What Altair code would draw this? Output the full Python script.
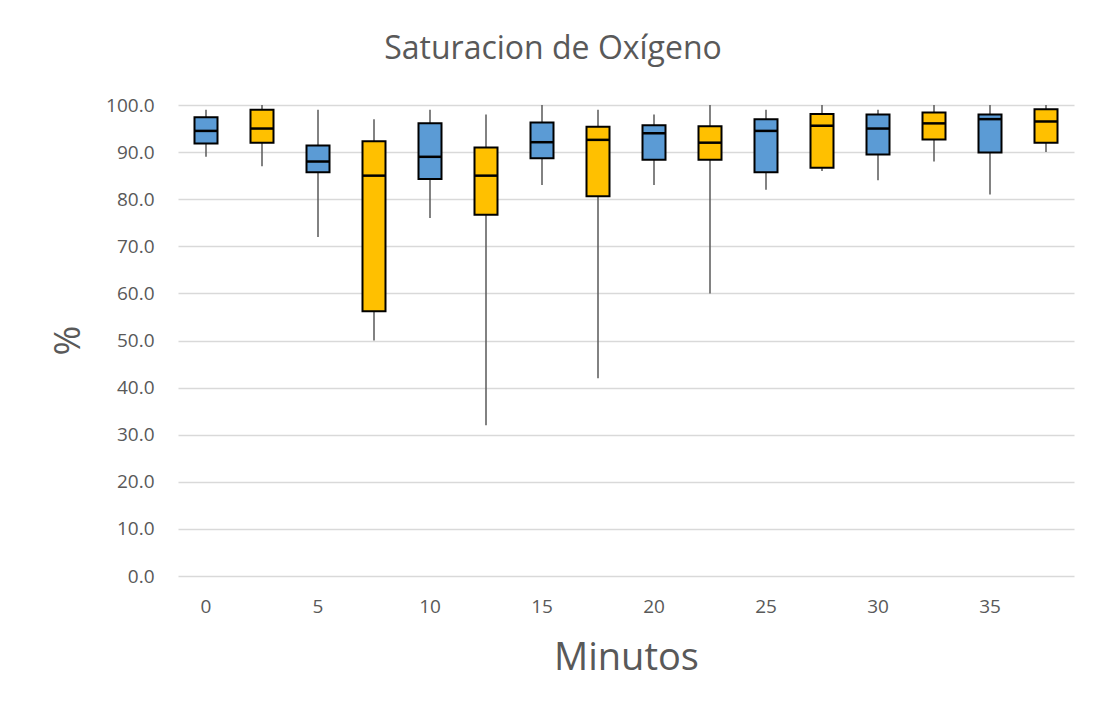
import altair as alt
import pandas as pd

# Categories: 16 box slots (blue / yellow alternating), labels only on every other slot
slot_labels = ["0", "", "5", "", "10", "", "15", "", "20", "", "25", "", "30", "", "35", ""]
groups = ["A", "B"] * 8

whisker_low = [89, 87, 72, 50, 76, 32, 83, 42, 83, 60, 82, 86, 84, 88, 81, 90]
q1 = [91.8, 92.0, 85.7, 56.2, 84.3, 76.7, 88.7, 80.6, 88.4, 88.4, 85.7, 86.7, 89.5, 92.7, 89.9, 92.0]
median = [94.5, 95.0, 88.0, 85.0, 89.0, 85.0, 92.1, 92.6, 94.0, 92.0, 94.5, 95.6, 95.0, 96.1, 97.0, 96.5]
q3 = [97.4, 99.0, 91.4, 92.3, 96.1, 91.0, 96.3, 95.4, 95.7, 95.5, 97.0, 98.1, 98.0, 98.4, 98.0, 99.1]
whisker_high = [99, 100, 99, 97, 99, 98, 100, 99, 98, 100, 99, 100, 99, 100, 100, 100]

df = pd.DataFrame({
    "slot": list(range(len(slot_labels))),
    "group": groups,
    "lo": whisker_low,
    "q1": q1,
    "med": median,
    "q3": q3,
    "hi": whisker_high,
})

FONT = "Open Sans"
GREY = "#595959"

label_expr = "[" + ",".join("'%s'" % s for s in slot_labels) + "][datum.value]"

x_enc = alt.X(
    "slot:O",
    scale=alt.Scale(paddingInner=0, paddingOuter=0),
    axis=alt.Axis(
        title="Minutos", labelExpr=label_expr, labelAngle=0, ticks=False, tickSize=0,
        domain=False, grid=False, labelPadding=21, labelFontSize=19, labelColor=GREY,
        labelFont=FONT, titleFontSize=38, titleFont=FONT, titleColor=GREY,
        titleFontWeight="normal", titleY=82, titleBaseline="middle",
    ),
)
y_scale = alt.Scale(domain=[0, 100], nice=False)
y_axis = alt.Axis(
    title="%", values=list(range(0, 101, 10)), format=".1f", ticks=False, tickSize=0,
    domain=False, gridColor="#d9d9d9", gridWidth=1.5, labelPadding=24, labelFontSize=19,
    labelColor=GREY, labelFont=FONT, titleFontSize=36, titleFont=FONT, titleColor=GREY,
    titleFontWeight="normal", titleX=-110, titleY=235, titleBaseline="middle", titleAlign="center",
)

color_scale = alt.Scale(domain=["A", "B"], range=["#5B9BD5", "#FFC000"])

base = alt.Chart(df)

whiskers = base.mark_rule(color=GREY, strokeWidth=1.5).encode(
    x=x_enc,
    y=alt.Y("lo:Q", scale=y_scale, axis=y_axis),
    y2="hi:Q",
)
boxes = base.mark_bar(size=23, stroke="black", strokeWidth=2, opacity=1).encode(
    x=x_enc,
    y=alt.Y("q1:Q", scale=y_scale, axis=y_axis),
    y2="q3:Q",
    color=alt.Color("group:N", scale=color_scale, legend=None),
)
medians = base.mark_tick(size=23, thickness=2.5, color="black", opacity=1).encode(
    x=x_enc,
    y=alt.Y("med:Q", scale=y_scale, axis=y_axis),
)

chart = (
    alt.layer(whiskers, boxes, medians)
    .properties(
        width=896,
        height=471,
        background="white",
        autosize=alt.AutoSizeParams(type="none"),
        padding={"left": 170, "top": 97, "right": 12, "bottom": 129},
        title=alt.TitleParams(
            "Saturacion de Oxígeno", fontSize=32, font=FONT, color=GREY,
            fontWeight="normal", anchor="middle", dx=-73, offset=30,
        ),
    )
    .configure_view(strokeWidth=0, strokeOpacity=0)
    .configure_axis(domain=False)
)

chart.save("out.html", embed_options={"renderer": "svg", "actions": False})
